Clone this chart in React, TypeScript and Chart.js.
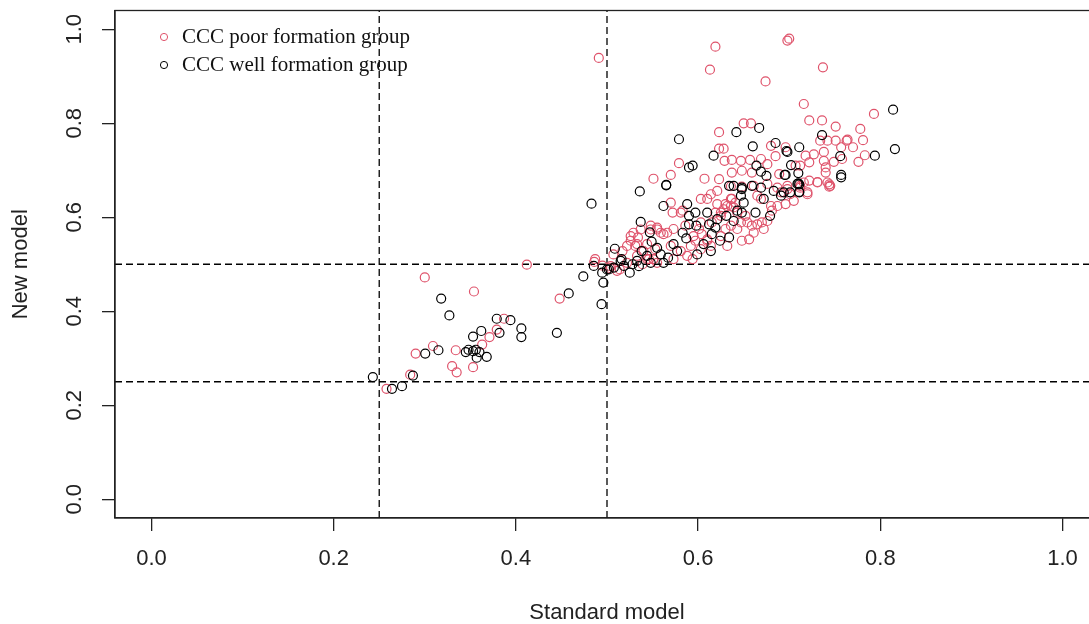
import React, { useEffect, useRef } from "react";
import { Chart, registerables } from "chart.js";

Chart.register(...registerables);

// ---- data ----
const seriesLabels = ["CCC poor formation group", "CCC well formation group"];
const seriesColors = ["#DF536B", "#000000"];

const poorGroup: [number, number][] = [
  [0.258, 0.235], [0.284, 0.265], [0.29, 0.31], [0.309, 0.326], [0.3, 0.472],
  [0.334, 0.317], [0.33, 0.283], [0.335, 0.27], [0.353, 0.281], [0.354, 0.442],
  [0.363, 0.329], [0.371, 0.345], [0.379, 0.361], [0.387, 0.384], [0.412, 0.499],
  [0.448, 0.427], [0.487, 0.511], [0.486, 0.505], [0.491, 0.939], [0.511, 0.486],
  [0.495, 0.497], [0.503, 0.492],
  [0.57, 0.631], [0.534, 0.557], [0.555, 0.578], [0.559, 0.567], [0.548, 0.574],
  [0.54, 0.528], [0.533, 0.518], [0.522, 0.503], [0.546, 0.511], [0.551, 0.511],
  [0.514, 0.489], [0.581, 0.61], [0.586, 0.582], [0.592, 0.539], [0.595, 0.56],
  [0.603, 0.589], [0.621, 0.628], [0.632, 0.624], [0.636, 0.639], [0.648, 0.55],
  [0.632, 0.539], [0.625, 0.61], [0.639, 0.621], [0.687, 0.663], [0.698, 0.66],
  [0.712, 0.663], [0.72, 0.653], [0.731, 0.674], [0.745, 0.667], [0.566, 0.567],
  [0.573, 0.575], [0.61, 0.553], [0.615, 0.589], [0.61, 0.639], [0.654, 0.589],
  [0.665, 0.646], [0.676, 0.671], [0.531, 0.539], [0.526, 0.56], [0.504, 0.496],
  [0.507, 0.521], [0.555, 0.503], [0.57, 0.539],
  [0.619, 0.963], [0.613, 0.914], [0.698, 0.976], [0.7, 0.98], [0.674, 0.889],
  [0.737, 0.919], [0.716, 0.841], [0.793, 0.82], [0.778, 0.788], [0.781, 0.764],
  [0.783, 0.732], [0.776, 0.718], [0.751, 0.793], [0.764, 0.765], [0.77, 0.749],
  [0.757, 0.749], [0.736, 0.806], [0.722, 0.806], [0.742, 0.763], [0.734, 0.763],
  [0.749, 0.718], [0.738, 0.739], [0.727, 0.734], [0.718, 0.731], [0.722, 0.717],
  [0.712, 0.71], [0.74, 0.706], [0.74, 0.695], [0.731, 0.675], [0.742, 0.674],
  [0.68, 0.752], [0.685, 0.73], [0.696, 0.749], [0.676, 0.713], [0.669, 0.724],
  [0.648, 0.699], [0.637, 0.695], [0.659, 0.695], [0.689, 0.692], [0.707, 0.71],
  [0.65, 0.8], [0.658, 0.8], [0.623, 0.781], [0.623, 0.746], [0.628, 0.746],
  [0.629, 0.72], [0.637, 0.722], [0.623, 0.681], [0.607, 0.682], [0.579, 0.715],
  [0.57, 0.69], [0.551, 0.682], [0.716, 0.674], [0.751, 0.763], [0.763, 0.763],
  [0.758, 0.724], [0.738, 0.72], [0.744, 0.67], [0.744, 0.665], [0.722, 0.678],
  [0.72, 0.649], [0.696, 0.628], [0.648, 0.665], [0.661, 0.667], [0.636, 0.666],
  [0.647, 0.72], [0.657, 0.722],
  [0.659, 0.582], [0.661, 0.567], [0.67, 0.589], [0.676, 0.592], [0.656, 0.553],
  [0.601, 0.575], [0.604, 0.564], [0.61, 0.55], [0.597, 0.55], [0.603, 0.532],
  [0.619, 0.61], [0.628, 0.617], [0.63, 0.628], [0.636, 0.624], [0.641, 0.631],
  [0.637, 0.639], [0.691, 0.653], [0.701, 0.649], [0.705, 0.635], [0.698, 0.667],
  [0.572, 0.61], [0.583, 0.614], [0.603, 0.639], [0.614, 0.649], [0.621, 0.656],
  [0.529, 0.567], [0.537, 0.574], [0.548, 0.582], [0.555, 0.574], [0.562, 0.564],
  [0.526, 0.55], [0.522, 0.539], [0.517, 0.528], [0.533, 0.543], [0.544, 0.543],
  [0.553, 0.532], [0.551, 0.511], [0.544, 0.511], [0.539, 0.5], [0.643, 0.575],
  [0.647, 0.589], [0.68, 0.624], [0.669, 0.639],
  [0.588, 0.518], [0.594, 0.511], [0.581, 0.528], [0.573, 0.511], [0.614, 0.539],
  [0.625, 0.56], [0.63, 0.575], [0.636, 0.582], [0.625, 0.603], [0.643, 0.61],
  [0.652, 0.603], [0.665, 0.585], [0.672, 0.575], [0.681, 0.614], [0.687, 0.624],
  [0.712, 0.667],
];

const wellGroup: [number, number][] = [
  [0.243, 0.26], [0.264, 0.235], [0.275, 0.2405], [0.287, 0.263], [0.3005, 0.31],
  [0.315, 0.317], [0.318, 0.427], [0.327, 0.391], [0.345, 0.313], [0.348, 0.318],
  [0.353, 0.315], [0.356, 0.318], [0.36, 0.313], [0.353, 0.346], [0.362, 0.358],
  [0.357, 0.301], [0.368, 0.303], [0.379, 0.384], [0.382, 0.354], [0.394, 0.381],
  [0.406, 0.3635], [0.406, 0.345], [0.445, 0.354], [0.458, 0.438], [0.474, 0.474],
  [0.496, 0.461], [0.494, 0.415], [0.483, 0.629],
  [0.4855, 0.4964], [0.4947, 0.482], [0.502, 0.489], [0.5075, 0.493], [0.515, 0.507],
  [0.5185, 0.4964],
  [0.5086, 0.533], [0.525, 0.482], [0.516, 0.511], [0.547, 0.568], [0.549, 0.548],
  [0.538, 0.528], [0.562, 0.503], [0.567, 0.514], [0.573, 0.543], [0.577, 0.528],
  [0.583, 0.567], [0.587, 0.555], [0.59, 0.603], [0.588, 0.628], [0.598, 0.582],
  [0.599, 0.521], [0.597, 0.61], [0.61, 0.61], [0.612, 0.585], [0.614, 0.528],
  [0.615, 0.564], [0.624, 0.55], [0.634, 0.557], [0.621, 0.596], [0.631, 0.603],
  [0.639, 0.592], [0.643, 0.614], [0.648, 0.61], [0.65, 0.631], [0.639, 0.667],
  [0.648, 0.66], [0.647, 0.646], [0.659, 0.667], [0.663, 0.61], [0.669, 0.663],
  [0.672, 0.639], [0.679, 0.603], [0.683, 0.656], [0.694, 0.653], [0.701, 0.653],
  [0.709, 0.671], [0.711, 0.653], [0.537, 0.59], [0.536, 0.655], [0.565, 0.668],
  [0.562, 0.624], [0.548, 0.503], [0.533, 0.507], [0.544, 0.518], [0.559, 0.521],
  [0.555, 0.535], [0.535, 0.496], [0.528, 0.5], [0.5, 0.489], [0.59, 0.585],
  [0.606, 0.543], [0.619, 0.578],
  [0.814, 0.829], [0.816, 0.745], [0.794, 0.731], [0.756, 0.73], [0.757, 0.69],
  [0.757, 0.685], [0.736, 0.775], [0.711, 0.749], [0.702, 0.711], [0.698, 0.739],
  [0.685, 0.758], [0.71, 0.694], [0.71, 0.672], [0.696, 0.69], [0.675, 0.688],
  [0.664, 0.71], [0.669, 0.697], [0.667, 0.79], [0.642, 0.781], [0.66, 0.751],
  [0.617, 0.731], [0.634, 0.667], [0.648, 0.663], [0.579, 0.766], [0.59, 0.706],
  [0.594, 0.71], [0.565, 0.669], [0.697, 0.741], [0.695, 0.69], [0.711, 0.67],
  [0.711, 0.654], [0.691, 0.646],
];

const cutoffs = [0.25, 0.5];
const xTicks = [0.0, 0.2, 0.4, 0.6, 0.8, 1.0];
const yTicks = [0.0, 0.2, 0.4, 0.6, 0.8, 1.0];
const AXIS_MIN = -0.04;
const AXIS_MAX = 1.04;
const xTitle = "Standard model";
const yTitle = "New model";

const INK = "#222222";
const tickFont = { family: '"Liberation Sans", Arial, sans-serif', size: 22 };

const frameLegendPlugin = {
  id: "frameLegend",
  afterDraw(chart: any) {
    const { ctx, chartArea } = chart;
    const { left, top, right, bottom } = chartArea;
    ctx.save();
    ctx.strokeStyle = INK;
    ctx.lineWidth = 1.3;
    ctx.strokeRect(left, top, right - left, bottom - top);
    let row = 0;
    chart.data.datasets.forEach((ds: any) => {
      if (!ds.inLegend) return;
      const cy = top + 26.5 + row * 28;
      ctx.beginPath();
      ctx.lineWidth = 1;
      ctx.strokeStyle = ds.borderColor;
      ctx.arc(left + 49, cy, 3.6, 0, Math.PI * 2);
      ctx.stroke();
      ctx.fillStyle = "#111";
      ctx.font = '21px "Liberation Serif", "Times New Roman", serif';
      ctx.textAlign = "left";
      ctx.textBaseline = "middle";
      ctx.fillText(ds.label, left + 67, cy);
      row++;
    });
    ctx.restore();
  },
};

export default function App() {
  const canvasRef = useRef<HTMLCanvasElement | null>(null);

  useEffect(() => {
    const canvas = canvasRef.current;
    if (!canvas) return;

    const lineDatasets: any[] = [];
    cutoffs.forEach((c) => {
      lineDatasets.push({
        type: "line",
        label: "v" + c,
        data: [{ x: c, y: AXIS_MIN }, { x: c, y: AXIS_MAX }],
        borderColor: "#000",
        borderWidth: 1.3,
        borderDash: [7, 4],
        pointRadius: 0,
        showLine: true,
        fill: false,
        order: 3,
      });
      lineDatasets.push({
        type: "line",
        label: "h" + c,
        data: [{ x: AXIS_MIN, y: c }, { x: AXIS_MAX, y: c }],
        borderColor: "#000",
        borderWidth: 1.3,
        borderDash: [7, 4],
        pointRadius: 0,
        showLine: true,
        fill: false,
        order: 3,
      });
    });

    const groups = [poorGroup, wellGroup];
    const pointDatasets = groups.map((g, i) => ({
      type: "scatter",
      label: seriesLabels[i],
      inLegend: true,
      data: g.map(([x, y]) => ({ x, y })),
      borderColor: seriesColors[i],
      backgroundColor: "rgba(0,0,0,0)",
      pointRadius: 4.5,
      pointBorderWidth: 1.2,
      pointHoverRadius: 4.5,
      order: 2 - i,
    }));

    const axisCommon = (ticks: number[]) => ({
      type: "linear",
      min: AXIS_MIN,
      max: AXIS_MAX,
      afterBuildTicks: (scale: any) => {
        scale.ticks = ticks.map((v) => ({ value: v }));
      },
      grid: {
        display: true,
        drawOnChartArea: false,
        drawTicks: true,
        tickLength: 13,
        color: INK,
        lineWidth: 1.3,
      },
      border: { display: true, color: INK, width: 1.3 },
    });

    const chart = new Chart(canvas, {
      type: "scatter",
      data: { datasets: [...pointDatasets, ...lineDatasets] as any },
      options: {
        animation: false,
        responsive: false,
        devicePixelRatio: 1,
        events: [],
        layout: { padding: { left: 0, right: 11, top: 10.5, bottom: 0 } },
        plugins: {
          legend: { display: false },
          tooltip: { enabled: false },
        },
        scales: {
          x: {
            ...axisCommon(xTicks),
            position: "bottom",
            afterFit: (scale: any) => {
              scale.height = 106;
              scale.paddingLeft = 0;
              scale.paddingRight = 0;
            },
            ticks: {
              color: INK,
              font: tickFont,
              padding: 15,
              maxRotation: 0,
              minRotation: 0,
              autoSkip: false,
              callback: (v: any) => Number(v).toFixed(1),
            },
            title: {
              display: true,
              text: xTitle,
              color: INK,
              font: { ...tickFont, lineHeight: 1 },
              padding: { top: 0, bottom: 0 },
            },
          },
          y: {
            ...axisCommon(yTicks),
            position: "left",
            afterFit: (scale: any) => {
              scale.width = 115;
              scale.paddingTop = 0;
              scale.paddingBottom = 0;
            },
            ticks: {
              color: INK,
              font: tickFont,
              padding: 12,
              minRotation: 90,
              maxRotation: 90,
              crossAlign: "center",
              autoSkip: false,
              callback: (v: any) => Number(v).toFixed(1),
            },
            title: {
              display: true,
              text: yTitle,
              color: INK,
              font: { ...tickFont, lineHeight: 1 },
              padding: { top: 9.5, bottom: 0 },
            },
          },
        },
      } as any,
      plugins: [frameLegendPlugin],
    });

    return () => {
      chart.destroy();
    };
  }, []);

  return (
    <div
      style={{
        position: "fixed",
        left: 0,
        top: 0,
        width: 1089,
        height: 624,
        overflow: "hidden",
        background: "#fff",
      }}
    >
      <canvas ref={canvasRef} width={1110} height={624} style={{ display: "block" }} />
    </div>
  );
}
